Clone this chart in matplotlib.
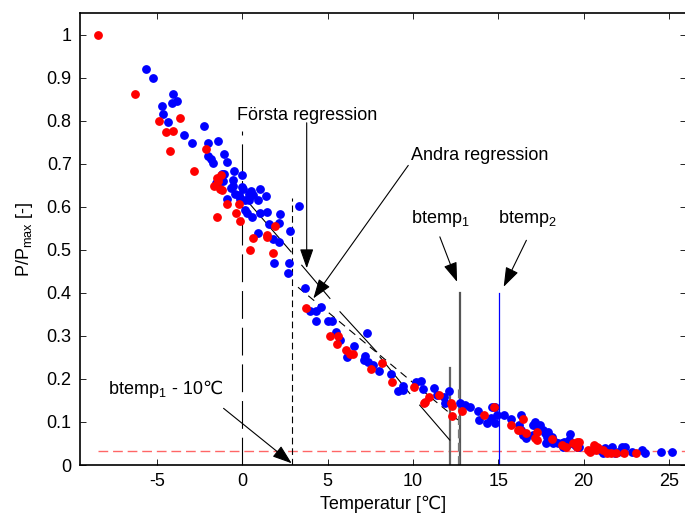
import numpy as np
import matplotlib
matplotlib.use('Agg')
import matplotlib.pyplot as plt

plt.rcParams['font.family'] = ['Liberation Sans', 'DejaVu Sans']
plt.rcParams['mathtext.fontset'] = 'custom'
plt.rcParams['mathtext.rm'] = 'Liberation Sans'
plt.rcParams['mathtext.it'] = 'Liberation Sans:italic'

# mätdata (avläst)
blue_x = [-5.64, -5.21, -4.06, -4.10, -3.81, -4.72, -4.63, -4.37, -3.42, -2.26, -2.91, -1.99, -1.44,
          -1.99, -1.83, -1.68, -1.09, -0.91, -1.07, -0.47, 0.00, -0.53, -0.56, -0.66, -1.50, -1.41,
          -1.54, -1.17, -1.11, 0.00, 0.04, -0.18, -0.43, 0.49, 0.39, 0.64, 1.04, 1.39, -0.91, -0.13,
          0.16, 0.41, 0.94, 0.16, 0.26, 1.04, 1.43, 2.21, 3.32, 0.55, 1.58, 2.17, 0.94, 1.82, 2.17,
          2.78, 1.86, 2.75, 2.66, 3.67, 3.97, 4.32, 4.59, 4.32, 5.04, 5.24, 5.47, 5.72, 7.29, 6.56,
          6.15, 7.19, 7.13, 7.38, 7.68, 8.03, 8.69, 9.14, 9.43, 9.43, 10.18, 10.45, 10.57, 11.21,
          11.43, 11.85, 11.90, 12.10, 12.75, 13.05, 13.34, 13.83, 13.85, 14.32, 14.55, 14.61, 14.80,
          14.90, 14.84, 15.33, 15.73, 16.31, 16.23, 16.31, 16.46, 16.62, 17.01, 17.15, 17.25, 17.44,
          17.63, 17.73, 17.83, 17.98, 18.13, 17.93, 17.05, 17.78, 18.18, 18.32, 18.51, 18.71, 18.80,
          18.85, 19.00, 19.20, 19.16, 19.30, 19.49, 19.63, 19.74, 20.47, 20.96, 21.15, 21.25, 21.64,
          21.83, 22.03, 22.23, 22.32, 22.42, 22.81, 23.40, 23.59, 24.51, 25.19]
blue_y = [0.921, 0.899, 0.862, 0.841, 0.846, 0.833, 0.816, 0.797, 0.767, 0.787, 0.749, 0.749, 0.752,
          0.718, 0.712, 0.701, 0.722, 0.705, 0.677, 0.683, 0.674, 0.661, 0.648, 0.644, 0.656, 0.650,
          0.654, 0.677, 0.660, 0.646, 0.642, 0.627, 0.629, 0.637, 0.629, 0.627, 0.640, 0.624, 0.617,
          0.619, 0.615, 0.615, 0.615, 0.592, 0.586, 0.586, 0.588, 0.582, 0.602, 0.576, 0.561, 0.562,
          0.540, 0.524, 0.517, 0.544, 0.470, 0.470, 0.445, 0.412, 0.358, 0.358, 0.367, 0.334, 0.334,
          0.334, 0.309, 0.290, 0.306, 0.276, 0.251, 0.253, 0.244, 0.240, 0.232, 0.219, 0.211, 0.172,
          0.183, 0.174, 0.192, 0.195, 0.176, 0.179, 0.162, 0.158, 0.143, 0.172, 0.143, 0.139, 0.134,
          0.126, 0.104, 0.098, 0.110, 0.135, 0.135, 0.116, 0.097, 0.117, 0.106, 0.117, 0.094, 0.081,
          0.070, 0.062, 0.093, 0.100, 0.089, 0.093, 0.081, 0.074, 0.066, 0.058, 0.066, 0.077, 0.070,
          0.050, 0.050, 0.054, 0.050, 0.050, 0.042, 0.054, 0.046, 0.072, 0.058, 0.052, 0.046, 0.041,
          0.042, 0.035, 0.035, 0.029, 0.039, 0.042, 0.029, 0.031, 0.041, 0.031, 0.042, 0.031, 0.035,
          0.029, 0.031, 0.031]

red_x = [-8.43, -6.29, -4.88, -3.65, -4.49, -4.06, -4.24, -2.14, -2.81, -1.48, -1.25, -1.41, -1.64,
         -1.31, -1.21, -0.91, -0.21, -0.37, -1.50, -0.13, 1.93, 0.61, 1.43, 1.43, 0.45, 1.78, 3.73,
         5.14, 5.62, 5.57, 6.07, 6.31, 6.50, 7.52, 8.20, 8.75, 10.09, 10.64, 10.70, 10.96, 11.51,
         12.22, 12.31, 12.30, 12.85, 14.17, 14.76, 15.72, 16.46, 16.17, 16.29, 16.62, 17.13, 17.25,
         17.30, 18.13, 18.74, 18.98, 19.39, 19.62, 19.74, 19.59, 20.27, 20.37, 20.60, 20.76, 20.72,
         20.86, 21.15, 21.35, 21.58, 21.88, 22.36, 23.10]
red_y = [0.999, 0.862, 0.800, 0.807, 0.773, 0.777, 0.729, 0.735, 0.682, 0.667, 0.673, 0.660, 0.648,
         0.640, 0.638, 0.606, 0.606, 0.585, 0.575, 0.566, 0.556, 0.527, 0.534, 0.530, 0.500, 0.493,
         0.365, 0.299, 0.299, 0.282, 0.267, 0.258, 0.259, 0.224, 0.236, 0.193, 0.182, 0.145, 0.147,
         0.158, 0.162, 0.143, 0.136, 0.114, 0.125, 0.116, 0.134, 0.093, 0.106, 0.082, 0.082, 0.074,
         0.062, 0.058, 0.077, 0.061, 0.046, 0.041, 0.052, 0.054, 0.054, 0.042, 0.035, 0.031, 0.046,
         0.042, 0.035, 0.039, 0.035, 0.029, 0.029, 0.029, 0.029, 0.029]

# regressioner och gränser
reg1_x = [0.0, 2.87]
reg1_y = [0.627, 0.495]
reg2_seg_x = [(3.49, 5.14), (5.73, 7.88), (8.07, 9.82), (10.40, 12.16)]
reg2_seg_y = [(0.464, 0.387), (0.356, 0.263), (0.251, 0.166), (0.139, 0.058)]
reg2b_x = [3.27, 12.75]
reg2b_y = [0.413, 0.101]
start_x, start_top = 0.0, 0.775
btemp1_m10, btemp1_m10_top = 2.89, 0.62
btemp1, btemp1_top = 12.79, 0.40
btemp1b, btemp1b_top = 12.72, 0.18
btemp0, btemp0_top = 12.17, 0.225
btemp2, btemp2_top = 15.05, 0.40
pmin = 0.0325
pmin_x = [-8.43, 26.0]

xticks = [-5, 0, 5, 10, 15, 20, 25]
yticks = [0, 0.1, 0.2, 0.3, 0.4, 0.5, 0.6, 0.7, 0.8, 0.9, 1]
yticklabels = ['0', '0.1', '0.2', '0.3', '0.4', '0.5', '0.6', '0.7', '0.8', '0.9', '1']

fig = plt.figure(figsize=(6.85, 5.13), dpi=100)
ax = fig.add_axes([80 / 685, 48 / 513, 606 / 685, 452 / 513])

ax.plot(pmin_x, [pmin, pmin], color='#ff6666', lw=1.0, dashes=(7, 3.5))

ax.plot(blue_x, blue_y, 'o', color='b', ms=5.3, mec='b', zorder=3)
ax.plot(red_x, red_y, 'o', color='r', ms=5.3, mec='r', zorder=3)

ax.plot([start_x, start_x], [0, start_top], 'k', lw=0.8, dashes=(25, 8))
ax.plot([btemp1_m10, btemp1_m10], [0, btemp1_m10_top], 'k', lw=0.8, dashes=(6, 3.5))
ax.plot([btemp1, btemp1], [0, btemp1_top], color='#555555', lw=1.6)
ax.plot([btemp1b, btemp1b], [0, btemp1b_top], color='#777777', lw=1.6, dashes=(4, 2))
ax.plot([btemp0, btemp0], [0, btemp0_top], color='#666666', lw=1.6)
ax.plot([btemp2, btemp2], [0, btemp2_top], color='b', lw=0.9)

ax.plot(reg1_x, reg1_y, 'k', lw=0.8)
for sx, sy in zip(reg2_seg_x, reg2_seg_y):
    ax.plot(sx, sy, 'k', lw=0.8)
ax.plot(reg2b_x, reg2b_y, 'k', lw=0.8, dashes=(7, 5))

arrow = dict(arrowstyle='-|>,head_length=1.2,head_width=0.42', color='k', lw=0.8,
             shrinkA=0, shrinkB=0)
fs = 13
ax.text(3.78, 0.802, 'Första regression', fontsize=fs, ha='center', va='baseline')
ax.annotate('', xy=(3.78, 0.457), xytext=(3.78, 0.795), arrowprops=arrow)
ax.text(9.88, 0.708, 'Andra regression', fontsize=fs, ha='left', va='baseline')
ax.annotate('', xy=(4.17, 0.387), xytext=(9.73, 0.696), arrowprops=arrow)
ax.text(9.88, 0.562, r'btemp$_{\rm 1}$', fontsize=fs, ha='left', va='baseline')
ax.annotate('', xy=(12.59, 0.4255), xytext=(11.58, 0.530), arrowprops=arrow)
ax.text(14.96, 0.562, r'btemp$_{\rm 2}$', fontsize=fs, ha='left', va='baseline')
ax.annotate('', xy=(15.32, 0.414), xytext=(16.65, 0.522), arrowprops=arrow)
t1 = ax.text(-7.85, 0.165, r'btemp$_{\rm 1}$', fontsize=fs, ha='left', va='baseline')
ax.annotate(' - 10℃', xy=(1, 0.165), xycoords=(t1, 'data'), fontsize=fs,
            ha='left', va='baseline')
ax.annotate('', xy=(2.9, 0.004), xytext=(-1.09, 0.1316), arrowprops=arrow)

ax.set_xlim(-9.5, 26)
ax.set_ylim(0, 1.05)
ax.set_xticks(xticks)
ax.set_xticklabels([str(t) for t in xticks])
ax.set_yticks(yticks)
ax.set_yticklabels(yticklabels)
ax.tick_params(direction='in', top=True, right=True, length=4, width=0.6, labelsize=fs, pad=6)
for s in ax.spines.values():
    s.set_linewidth(1.2)

ax.set_xlabel('Temperatur [℃]', fontsize=fs, labelpad=4)
ax.set_ylabel(r'P/P$_{\rm max}$ [-]', fontsize=fs, labelpad=8)

fig.savefig('out.png', dpi=100)
